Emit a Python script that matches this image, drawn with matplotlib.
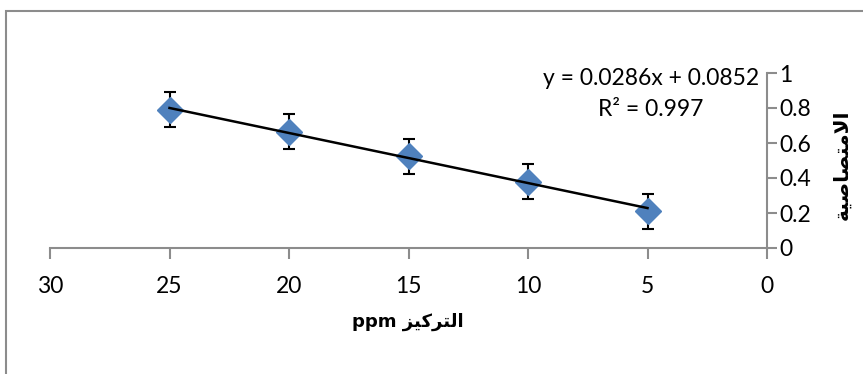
import matplotlib.pyplot as plt
from matplotlib.patches import Rectangle

# data
conc = [5, 10, 15, 20, 25]
absorb = [0.21, 0.38, 0.525, 0.665, 0.79]
err = [0.1, 0.1, 0.1, 0.1, 0.1]
slope = 0.0286
intercept = 0.0852
eq_text = "y = 0.0286x + 0.0852\nR² = 0.997"
x_ticks = [0, 5, 10, 15, 20, 25, 30]
y_ticks = [0, 0.2, 0.4, 0.6, 0.8, 1]

# Arabic labels, pre-shaped (presentation forms, visual order)
xlabel_ar = "\ufeb0\ufef4\ufedb\ufeae\ufe98\ufedf\ufe8d"   # التركيز
ylabel_ar = "\ufe94\ufef4\ufebb\ufe8e\ufebc\ufe98\ufee3\ufefb\ufe8d"  # الامتصاصية

fonts = ['Lato', 'DejaVu Sans']
plt.rcParams['font.family'] = fonts

fig = plt.figure(figsize=(8.63, 3.74), dpi=100)
ax = fig.add_axes([50 / 863, 1 - 248 / 374, 717 / 863, 175 / 374])

# chart border
fig.patches.append(Rectangle((6 / 863, -0.1), 1.2, (374 - 11) / 374 + 0.1,
                             transform=fig.transFigure, fill=False,
                             edgecolor='#8c8c8c', linewidth=1.5))

ax.errorbar(conc, absorb, yerr=err, fmt='none', ecolor='black',
            elinewidth=1.5, capsize=4, capthick=1.5, zorder=2)
ax.plot(conc, absorb, linestyle='none', marker='D', markersize=13,
        color='#4f81bd', zorder=3)
fit_x = [min(conc), max(conc)]
fit_y = [slope * v + intercept for v in fit_x]
ax.plot(fit_x, fit_y, color='black', linewidth=1.8, zorder=4)

ax.set_xlim(30, 0)
ax.set_ylim(0, 1)
ax.set_xticks(x_ticks)
ax.set_yticks(y_ticks)
ax.set_yticklabels(['0', '0.2', '0.4', '0.6', '0.8', '1'])

ax.yaxis.tick_right()
for side in ['top', 'left']:
    ax.spines[side].set_visible(False)
for side in ['bottom', 'right']:
    ax.spines[side].set_color('#8c8c8c')
    ax.spines[side].set_linewidth(1.5)
ax.tick_params(axis='x', direction='out', length=8, width=1.5, color='#8c8c8c',
               labelsize=16.5, pad=12)
ax.tick_params(axis='y', direction='out', length=7, width=1.5, color='#8c8c8c',
               labelsize=16.5, pad=2)

ax.text(0.838, 0.88, eq_text, transform=ax.transAxes, ha='center', va='center',
        fontsize=16.5, linespacing=1.6)

fig.text(408 / 863, 1 - 322 / 374, "ppm " + xlabel_ar, ha='center', va='center',
         fontsize=13, fontweight='bold', family=['DejaVu Sans'])
fig.text(842 / 863, 1 - 165 / 374, ylabel_ar, ha='center', va='center',
         rotation=90, fontsize=14.5, fontweight='bold', family=['DejaVu Sans'])

fig.savefig('out.png', dpi=100)
